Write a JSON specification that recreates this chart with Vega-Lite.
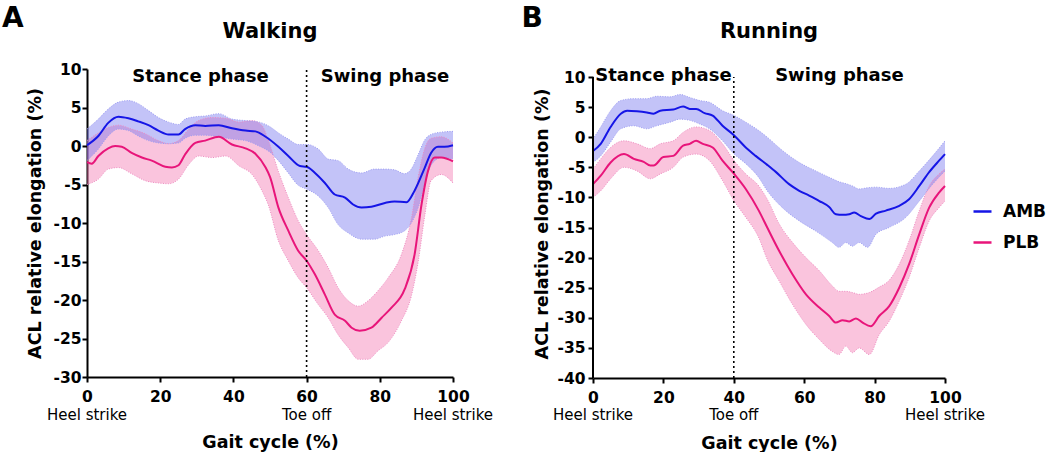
{
"$schema": "https://vega.github.io/schema/vega-lite/v6.json",
"padding": {"left": 2, "top": 5, "right": 2, "bottom": 0},
"spacing": 27,
"config": {
  "view": {"stroke": null},
  "font": "DejaVu Sans",
  "axis": {"grid": false, "domainColor": "black", "domainWidth": 2, "tickColor": "black", "tickWidth": 2, "tickSize": 5,
    "labelFont": "DejaVu Sans", "labelFontSize": 15.5, "labelFontWeight": "bold", "labelColor": "black",
    "titleFont": "DejaVu Sans", "titleFontSize": 17.5, "titleFontWeight": "bold", "titleColor": "black",
    "labelFlush": false, "labelOverlap": false, "labelExpr": "toString(datum.value)"}
},
"datasets": {
  "mean": [
{"p":"W","g":"AMB","x":0,"v":0.1},{"p":"W","g":"AMB","x":3.1,"v":1.3},{"p":"W","g":"AMB","x":5.8,"v":3.0},{"p":"W","g":"AMB","x":8.6,"v":3.8},{"p":"W","g":"AMB","x":11.3,"v":3.6},{"p":"W","g":"AMB","x":14,"v":3.2},{"p":"W","g":"AMB","x":16.8,"v":2.7},{"p":"W","g":"AMB","x":19.5,"v":2.0},{"p":"W","g":"AMB","x":22.3,"v":1.5},{"p":"W","g":"AMB","x":25,"v":1.5},{"p":"W","g":"AMB","x":26.8,"v":2.2},{"p":"W","g":"AMB","x":29.6,"v":2.7},{"p":"W","g":"AMB","x":32.3,"v":2.6},{"p":"W","g":"AMB","x":36,"v":2.7},{"p":"W","g":"AMB","x":39.6,"v":2.3},{"p":"W","g":"AMB","x":43.3,"v":2.0},{"p":"W","g":"AMB","x":46,"v":1.9},{"p":"W","g":"AMB","x":48.8,"v":1.2},{"p":"W","g":"AMB","x":52.3,"v":-0.1},{"p":"W","g":"AMB","x":55,"v":-1.3},{"p":"W","g":"AMB","x":58.2,"v":-2.6},{"p":"W","g":"AMB","x":60,"v":-2.7},{"p":"W","g":"AMB","x":62.3,"v":-3.5},{"p":"W","g":"AMB","x":65,"v":-4.8},{"p":"W","g":"AMB","x":67.7,"v":-6.3},{"p":"W","g":"AMB","x":70.5,"v":-6.7},{"p":"W","g":"AMB","x":72.7,"v":-7.6},{"p":"W","g":"AMB","x":75,"v":-8.0},{"p":"W","g":"AMB","x":77.7,"v":-7.9},{"p":"W","g":"AMB","x":81.4,"v":-7.4},{"p":"W","g":"AMB","x":84,"v":-7.2},{"p":"W","g":"AMB","x":87.3,"v":-7.3},{"p":"W","g":"AMB","x":89.5,"v":-5.8},{"p":"W","g":"AMB","x":92.3,"v":-2.8},{"p":"W","g":"AMB","x":94,"v":-0.9},{"p":"W","g":"AMB","x":95.9,"v":-0.1},{"p":"W","g":"AMB","x":97.7,"v":-0.1},{"p":"W","g":"AMB","x":100,"v":0.1},
{"p":"W","g":"PLB","x":0,"v":-2.1},{"p":"W","g":"PLB","x":1.3,"v":-2.3},{"p":"W","g":"PLB","x":3.1,"v":-1.3},{"p":"W","g":"PLB","x":5.8,"v":-0.3},{"p":"W","g":"PLB","x":7.7,"v":0},{"p":"W","g":"PLB","x":9.5,"v":-0.1},{"p":"W","g":"PLB","x":12.2,"v":-0.9},{"p":"W","g":"PLB","x":15,"v":-1.5},{"p":"W","g":"PLB","x":17.7,"v":-1.9},{"p":"W","g":"PLB","x":21.4,"v":-2.7},{"p":"W","g":"PLB","x":23.2,"v":-2.8},{"p":"W","g":"PLB","x":25,"v":-2.5},{"p":"W","g":"PLB","x":26.8,"v":-1.1},{"p":"W","g":"PLB","x":29.6,"v":0.4},{"p":"W","g":"PLB","x":32.3,"v":0.7},{"p":"W","g":"PLB","x":36,"v":1.2},{"p":"W","g":"PLB","x":39.6,"v":0.2},{"p":"W","g":"PLB","x":43.3,"v":-0.3},{"p":"W","g":"PLB","x":46,"v":-1.0},{"p":"W","g":"PLB","x":48.8,"v":-2.8},{"p":"W","g":"PLB","x":50,"v":-4.0},{"p":"W","g":"PLB","x":52.3,"v":-8.0},{"p":"W","g":"PLB","x":55,"v":-11.0},{"p":"W","g":"PLB","x":57.7,"v":-13.6},{"p":"W","g":"PLB","x":60,"v":-14.9},{"p":"W","g":"PLB","x":62.3,"v":-16.7},{"p":"W","g":"PLB","x":65,"v":-19.3},{"p":"W","g":"PLB","x":67.7,"v":-21.9},{"p":"W","g":"PLB","x":70.5,"v":-22.7},{"p":"W","g":"PLB","x":72.3,"v":-23.6},{"p":"W","g":"PLB","x":74.5,"v":-24.0},{"p":"W","g":"PLB","x":77.7,"v":-23.6},{"p":"W","g":"PLB","x":80.5,"v":-22.3},{"p":"W","g":"PLB","x":83.2,"v":-21.0},{"p":"W","g":"PLB","x":86.8,"v":-18.6},{"p":"W","g":"PLB","x":89.5,"v":-14.1},{"p":"W","g":"PLB","x":91.4,"v":-7.6},{"p":"W","g":"PLB","x":93.2,"v":-3.2},{"p":"W","g":"PLB","x":95,"v":-1.5},{"p":"W","g":"PLB","x":96.8,"v":-1.5},{"p":"W","g":"PLB","x":100,"v":-2.0},
{"p":"R","g":"AMB","x":0,"v":-2.3},{"p":"R","g":"AMB","x":2.2,"v":-1.1},{"p":"R","g":"AMB","x":5,"v":1.7},{"p":"R","g":"AMB","x":7.9,"v":3.9},{"p":"R","g":"AMB","x":9.7,"v":4.4},{"p":"R","g":"AMB","x":12.5,"v":4.3},{"p":"R","g":"AMB","x":15.3,"v":4.1},{"p":"R","g":"AMB","x":17.2,"v":3.9},{"p":"R","g":"AMB","x":19.1,"v":4.4},{"p":"R","g":"AMB","x":22.8,"v":4.6},{"p":"R","g":"AMB","x":25.6,"v":5.1},{"p":"R","g":"AMB","x":27.5,"v":4.7},{"p":"R","g":"AMB","x":29.3,"v":4.7},{"p":"R","g":"AMB","x":31.7,"v":4.0},{"p":"R","g":"AMB","x":34,"v":3.6},{"p":"R","g":"AMB","x":36.8,"v":1.9},{"p":"R","g":"AMB","x":40.1,"v":0.3},{"p":"R","g":"AMB","x":43.4,"v":-1.7},{"p":"R","g":"AMB","x":46.2,"v":-3.1},{"p":"R","g":"AMB","x":49.5,"v":-4.6},{"p":"R","g":"AMB","x":52,"v":-5.8},{"p":"R","g":"AMB","x":55.7,"v":-7.8},{"p":"R","g":"AMB","x":58.6,"v":-8.9},{"p":"R","g":"AMB","x":61.4,"v":-9.7},{"p":"R","g":"AMB","x":64.3,"v":-10.6},{"p":"R","g":"AMB","x":67.1,"v":-11.6},{"p":"R","g":"AMB","x":69,"v":-12.8},{"p":"R","g":"AMB","x":70.9,"v":-12.9},{"p":"R","g":"AMB","x":72.8,"v":-12.8},{"p":"R","g":"AMB","x":74.2,"v":-12.5},{"p":"R","g":"AMB","x":76.1,"v":-13.1},{"p":"R","g":"AMB","x":78.5,"v":-13.6},{"p":"R","g":"AMB","x":80.4,"v":-12.7},{"p":"R","g":"AMB","x":83.2,"v":-12.2},{"p":"R","g":"AMB","x":87,"v":-11.4},{"p":"R","g":"AMB","x":89.8,"v":-10.3},{"p":"R","g":"AMB","x":92.7,"v":-8.1},{"p":"R","g":"AMB","x":95.5,"v":-5.8},{"p":"R","g":"AMB","x":98.3,"v":-3.9},{"p":"R","g":"AMB","x":100,"v":-2.8},
{"p":"R","g":"PLB","x":0,"v":-7.8},{"p":"R","g":"PLB","x":2.2,"v":-6.4},{"p":"R","g":"PLB","x":5,"v":-4.2},{"p":"R","g":"PLB","x":8.8,"v":-2.8},{"p":"R","g":"PLB","x":11.6,"v":-3.6},{"p":"R","g":"PLB","x":14.4,"v":-4.1},{"p":"R","g":"PLB","x":16.3,"v":-4.7},{"p":"R","g":"PLB","x":17.2,"v":-4.7},{"p":"R","g":"PLB","x":20,"v":-3.3},{"p":"R","g":"PLB","x":22.8,"v":-3.1},{"p":"R","g":"PLB","x":25.6,"v":-1.4},{"p":"R","g":"PLB","x":27.5,"v":-1.1},{"p":"R","g":"PLB","x":29.3,"v":-0.6},{"p":"R","g":"PLB","x":31.2,"v":-1.1},{"p":"R","g":"PLB","x":34,"v":-1.7},{"p":"R","g":"PLB","x":36.8,"v":-3.9},{"p":"R","g":"PLB","x":40.1,"v":-6.1},{"p":"R","g":"PLB","x":43.4,"v":-8.6},{"p":"R","g":"PLB","x":47.1,"v":-12.2},{"p":"R","g":"PLB","x":49.5,"v":-15.0},{"p":"R","g":"PLB","x":52.9,"v":-18.9},{"p":"R","g":"PLB","x":56.7,"v":-22.8},{"p":"R","g":"PLB","x":60.5,"v":-26.1},{"p":"R","g":"PLB","x":64.3,"v":-28.3},{"p":"R","g":"PLB","x":67.1,"v":-29.7},{"p":"R","g":"PLB","x":69,"v":-30.8},{"p":"R","g":"PLB","x":70.9,"v":-30.4},{"p":"R","g":"PLB","x":72.8,"v":-30.6},{"p":"R","g":"PLB","x":74.7,"v":-30.1},{"p":"R","g":"PLB","x":76.6,"v":-30.8},{"p":"R","g":"PLB","x":78.9,"v":-31.4},{"p":"R","g":"PLB","x":81.3,"v":-29.7},{"p":"R","g":"PLB","x":84.1,"v":-28.1},{"p":"R","g":"PLB","x":87,"v":-25.0},{"p":"R","g":"PLB","x":89.8,"v":-21.1},{"p":"R","g":"PLB","x":92.7,"v":-16.1},{"p":"R","g":"PLB","x":95.5,"v":-11.7},{"p":"R","g":"PLB","x":98.3,"v":-9.2},{"p":"R","g":"PLB","x":100,"v":-8.1}
  ],
  "band": [
{"p":"W","g":"AMB","x":0,"hi":2.2,"lo":-1.9},{"p":"W","g":"AMB","x":3.1,"hi":3.5,"lo":-0.4},{"p":"W","g":"AMB","x":5.8,"hi":4.8,"lo":1.3},{"p":"W","g":"AMB","x":8.6,"hi":5.7,"lo":2.2},{"p":"W","g":"AMB","x":11.3,"hi":5.9,"lo":2.0},{"p":"W","g":"AMB","x":14,"hi":5.5,"lo":1.3},{"p":"W","g":"AMB","x":16.8,"hi":4.6,"lo":0.7},{"p":"W","g":"AMB","x":19.5,"hi":3.7,"lo":0.4},{"p":"W","g":"AMB","x":22.3,"hi":3.1,"lo":0.3},{"p":"W","g":"AMB","x":25,"hi":2.8,"lo":0.4},{"p":"W","g":"AMB","x":26.8,"hi":3.5,"lo":1.0},{"p":"W","g":"AMB","x":29.6,"hi":3.8,"lo":1.4},{"p":"W","g":"AMB","x":32.3,"hi":3.9,"lo":1.4},{"p":"W","g":"AMB","x":36,"hi":4.2,"lo":1.2},{"p":"W","g":"AMB","x":39.6,"hi":3.5,"lo":0.9},{"p":"W","g":"AMB","x":43.3,"hi":3.3,"lo":0.7},{"p":"W","g":"AMB","x":47,"hi":3.1,"lo":0},{"p":"W","g":"AMB","x":50,"hi":2.5,"lo":-0.8},{"p":"W","g":"AMB","x":52.3,"hi":1.7,"lo":-1.9},{"p":"W","g":"AMB","x":55,"hi":0.9,"lo":-3.5},{"p":"W","g":"AMB","x":57.7,"hi":0.2,"lo":-5.1},{"p":"W","g":"AMB","x":60,"hi":0.2,"lo":-5.6},{"p":"W","g":"AMB","x":63.2,"hi":-0.4,"lo":-6.5},{"p":"W","g":"AMB","x":65.9,"hi":-1.7,"lo":-8.0},{"p":"W","g":"AMB","x":68.6,"hi":-1.9,"lo":-10.2},{"p":"W","g":"AMB","x":71.4,"hi":-3.0,"lo":-11.3},{"p":"W","g":"AMB","x":75,"hi":-3.5,"lo":-12.1},{"p":"W","g":"AMB","x":78.6,"hi":-3.0,"lo":-12.1},{"p":"W","g":"AMB","x":81.4,"hi":-3.0,"lo":-11.7},{"p":"W","g":"AMB","x":84,"hi":-3.1,"lo":-11.5},{"p":"W","g":"AMB","x":86.8,"hi":-3.6,"lo":-11.0},{"p":"W","g":"AMB","x":88.6,"hi":-3.0,"lo":-10.0},{"p":"W","g":"AMB","x":90.5,"hi":-1.1,"lo":-8.0},{"p":"W","g":"AMB","x":92.3,"hi":0.8,"lo":-4.8},{"p":"W","g":"AMB","x":94,"hi":1.5,"lo":-2.5},{"p":"W","g":"AMB","x":96.8,"hi":1.8,"lo":-1.5},{"p":"W","g":"AMB","x":100,"hi":1.9,"lo":-1.7},
{"p":"W","g":"PLB","x":0,"hi":0.7,"lo":-5.0},{"p":"W","g":"PLB","x":3.1,"hi":1.7,"lo":-4.3},{"p":"W","g":"PLB","x":5.8,"hi":2.4,"lo":-3.0},{"p":"W","g":"PLB","x":8.6,"hi":2.7,"lo":-2.8},{"p":"W","g":"PLB","x":12.2,"hi":2.2,"lo":-3.6},{"p":"W","g":"PLB","x":15.9,"hi":1.6,"lo":-4.5},{"p":"W","g":"PLB","x":19.5,"hi":0.7,"lo":-4.8},{"p":"W","g":"PLB","x":22.3,"hi":0.3,"lo":-4.9},{"p":"W","g":"PLB","x":25,"hi":0.7,"lo":-4.3},{"p":"W","g":"PLB","x":27.8,"hi":2.2,"lo":-2.4},{"p":"W","g":"PLB","x":30.5,"hi":3.3,"lo":-1.3},{"p":"W","g":"PLB","x":34.2,"hi":3.7,"lo":-1.5},{"p":"W","g":"PLB","x":37.9,"hi":3.6,"lo":-1.3},{"p":"W","g":"PLB","x":41.6,"hi":3.1,"lo":-2.6},{"p":"W","g":"PLB","x":45.1,"hi":3.3,"lo":-3.7},{"p":"W","g":"PLB","x":47.9,"hi":2.6,"lo":-5.9},{"p":"W","g":"PLB","x":49.5,"hi":0.8,"lo":-7.6},{"p":"W","g":"PLB","x":52.3,"hi":-3.3,"lo":-12.3},{"p":"W","g":"PLB","x":55,"hi":-6.7,"lo":-14.9},{"p":"W","g":"PLB","x":57.7,"hi":-9.7,"lo":-17.1},{"p":"W","g":"PLB","x":60,"hi":-11.5,"lo":-18.4},{"p":"W","g":"PLB","x":63.2,"hi":-13.6,"lo":-20.6},{"p":"W","g":"PLB","x":65.9,"hi":-15.8,"lo":-22.3},{"p":"W","g":"PLB","x":68.6,"hi":-18.4,"lo":-24.5},{"p":"W","g":"PLB","x":71.4,"hi":-20.1,"lo":-26.2},{"p":"W","g":"PLB","x":74.1,"hi":-20.8,"lo":-27.7},{"p":"W","g":"PLB","x":76.8,"hi":-20.1,"lo":-27.7},{"p":"W","g":"PLB","x":79.5,"hi":-18.8,"lo":-26.6},{"p":"W","g":"PLB","x":82.3,"hi":-17.1,"lo":-25.5},{"p":"W","g":"PLB","x":85.9,"hi":-14.1,"lo":-22.7},{"p":"W","g":"PLB","x":88.6,"hi":-9.5,"lo":-19.5},{"p":"W","g":"PLB","x":90.5,"hi":-4.0,"lo":-15.0},{"p":"W","g":"PLB","x":92.3,"hi":-0.3,"lo":-9.0},{"p":"W","g":"PLB","x":94,"hi":1.0,"lo":-4.5},{"p":"W","g":"PLB","x":96.8,"hi":1.2,"lo":-3.7},{"p":"W","g":"PLB","x":100,"hi":0.4,"lo":-4.8},
{"p":"R","g":"AMB","x":0,"hi":-0.3,"lo":-4.2},{"p":"R","g":"AMB","x":2.2,"hi":1.7,"lo":-3.1},{"p":"R","g":"AMB","x":5,"hi":4.4,"lo":-0.8},{"p":"R","g":"AMB","x":7.9,"hi":6.1,"lo":1.4},{"p":"R","g":"AMB","x":11.6,"hi":6.4,"lo":1.9},{"p":"R","g":"AMB","x":15.3,"hi":6.4,"lo":1.4},{"p":"R","g":"AMB","x":18.1,"hi":6.8,"lo":1.9},{"p":"R","g":"AMB","x":21.9,"hi":6.7,"lo":2.5},{"p":"R","g":"AMB","x":24.7,"hi":7.1,"lo":3.0},{"p":"R","g":"AMB","x":27.5,"hi":6.6,"lo":2.8},{"p":"R","g":"AMB","x":30.3,"hi":6.1,"lo":2.2},{"p":"R","g":"AMB","x":33.1,"hi":5.8,"lo":1.4},{"p":"R","g":"AMB","x":36.8,"hi":4.4,"lo":-0.6},{"p":"R","g":"AMB","x":40.1,"hi":3.6,"lo":-2.8},{"p":"R","g":"AMB","x":43.4,"hi":2.5,"lo":-4.4},{"p":"R","g":"AMB","x":47.1,"hi":1.1,"lo":-6.7},{"p":"R","g":"AMB","x":49.5,"hi":0,"lo":-8.9},{"p":"R","g":"AMB","x":53.8,"hi":-2.2,"lo":-11.7},{"p":"R","g":"AMB","x":58.6,"hi":-4.2,"lo":-13.9},{"p":"R","g":"AMB","x":63.3,"hi":-5.6,"lo":-15.6},{"p":"R","g":"AMB","x":68,"hi":-6.9,"lo":-17.5},{"p":"R","g":"AMB","x":69.9,"hi":-7.4,"lo":-18.3},{"p":"R","g":"AMB","x":71.8,"hi":-7.7,"lo":-17.5},{"p":"R","g":"AMB","x":73.7,"hi":-8.1,"lo":-18.1},{"p":"R","g":"AMB","x":75.6,"hi":-8.6,"lo":-17.5},{"p":"R","g":"AMB","x":78,"hi":-8.4,"lo":-18.3},{"p":"R","g":"AMB","x":80.4,"hi":-8.3,"lo":-16.1},{"p":"R","g":"AMB","x":84.1,"hi":-8.5,"lo":-15.0},{"p":"R","g":"AMB","x":88.9,"hi":-7.8,"lo":-13.3},{"p":"R","g":"AMB","x":92.7,"hi":-5.6,"lo":-10.6},{"p":"R","g":"AMB","x":96.5,"hi":-3.1,"lo":-7.8},{"p":"R","g":"AMB","x":100,"hi":-0.6,"lo":-5.6},
{"p":"R","g":"PLB","x":0,"hi":-5.3,"lo":-10.0},{"p":"R","g":"PLB","x":2.2,"hi":-3.6,"lo":-8.9},{"p":"R","g":"PLB","x":5,"hi":-1.7,"lo":-6.9},{"p":"R","g":"PLB","x":8.8,"hi":-0.6,"lo":-5.0},{"p":"R","g":"PLB","x":12.5,"hi":-1.1,"lo":-5.6},{"p":"R","g":"PLB","x":16.3,"hi":-1.9,"lo":-6.9},{"p":"R","g":"PLB","x":19.1,"hi":-1.1,"lo":-6.1},{"p":"R","g":"PLB","x":22.8,"hi":-0.6,"lo":-5.0},{"p":"R","g":"PLB","x":25.6,"hi":0.8,"lo":-3.3},{"p":"R","g":"PLB","x":29.3,"hi":1.7,"lo":-2.8},{"p":"R","g":"PLB","x":33.1,"hi":1.1,"lo":-3.9},{"p":"R","g":"PLB","x":36.8,"hi":-1.1,"lo":-7.2},{"p":"R","g":"PLB","x":40.1,"hi":-3.9,"lo":-10.6},{"p":"R","g":"PLB","x":43.4,"hi":-6.1,"lo":-13.3},{"p":"R","g":"PLB","x":47.1,"hi":-8.1,"lo":-16.7},{"p":"R","g":"PLB","x":49.5,"hi":-10.3,"lo":-20.3},{"p":"R","g":"PLB","x":52.9,"hi":-14.4,"lo":-23.9},{"p":"R","g":"PLB","x":56.7,"hi":-17.5,"lo":-27.8},{"p":"R","g":"PLB","x":60.5,"hi":-20.0,"lo":-31.1},{"p":"R","g":"PLB","x":64.3,"hi":-22.2,"lo":-33.6},{"p":"R","g":"PLB","x":68,"hi":-24.7,"lo":-35.6},{"p":"R","g":"PLB","x":69.9,"hi":-25.6,"lo":-36.1},{"p":"R","g":"PLB","x":71.8,"hi":-25.6,"lo":-34.7},{"p":"R","g":"PLB","x":73.7,"hi":-25.8,"lo":-35.8},{"p":"R","g":"PLB","x":75.6,"hi":-26.1,"lo":-35.0},{"p":"R","g":"PLB","x":78.5,"hi":-25.8,"lo":-36.1},{"p":"R","g":"PLB","x":81.3,"hi":-24.9,"lo":-32.8},{"p":"R","g":"PLB","x":84.1,"hi":-23.8,"lo":-30.6},{"p":"R","g":"PLB","x":87,"hi":-21.1,"lo":-27.2},{"p":"R","g":"PLB","x":89.8,"hi":-17.2,"lo":-23.3},{"p":"R","g":"PLB","x":92.7,"hi":-12.2,"lo":-18.3},{"p":"R","g":"PLB","x":95.5,"hi":-8.1,"lo":-13.9},{"p":"R","g":"PLB","x":98.3,"hi":-6.1,"lo":-11.7},{"p":"R","g":"PLB","x":100,"hi":-5.3,"lo":-10.6}
  ],
  "ann": [
{"p":"W","k":"letter","x":-23.2,"y":15.45,"t":"A"},
{"p":"W","k":"title","x":50,"y":14.03,"t":"Walking"},
{"p":"W","k":"phase","x":31,"y":8.35,"t":"Stance phase"},
{"p":"W","k":"phase","x":81.4,"y":8.35,"t":"Swing phase"},
{"p":"W","k":"event","x":0,"y":-35.6,"t":"Heel strike"},
{"p":"W","k":"event","x":60,"y":-35.6,"t":"Toe off"},
{"p":"W","k":"event","x":100,"y":-35.6,"t":"Heel strike"},
{"p":"R","k":"letter","x":-20.3,"y":18.3,"t":"B"},
{"p":"R","k":"title","x":50,"y":16.48,"t":"Running"},
{"p":"R","k":"phase","x":20,"y":9.34,"t":"Stance phase"},
{"p":"R","k":"phase","x":70,"y":9.34,"t":"Swing phase"},
{"p":"R","k":"event","x":0,"y":-46.97,"t":"Heel strike"},
{"p":"R","k":"event","x":40,"y":-46.97,"t":"Toe off"},
{"p":"R","k":"event","x":100,"y":-46.97,"t":"Heel strike"}
  ],
  "rules": [
{"p":"W","k":"toe","x":60,"y":-30,"y2":10},
{"p":"R","k":"toe","x":40,"y":-40,"y2":10},
{"p":"R","k":"axis","x":0,"y":-40,"y2":10}
  ]
},
"hconcat": [
{
  "width": 366, "height": 308,
  "encoding": {
    "x": {"field": "x", "type": "quantitative", "scale": {"domain": [0, 100], "nice": false}, "axis": {"values": [0,20,40,60,80,100], "title": "Gait cycle (%)", "titlePadding": 29, "labelPadding": 7}}
  },
  "layer": [
    {"data": {"name": "band"}, "transform": [{"filter": "datum.p=='W' && datum.g=='PLB'"}],
     "mark": {"type": "area", "color": "#f272ad", "opacity": 0.42, "interpolate": "monotone"},
     "encoding": {
       "y": {"field": "hi", "type": "quantitative", "scale": {"domain": [-30, 10], "nice": false, "zero": false}, "axis": {"values": [-30,-25,-20,-15,-10,-5,0,5,10], "title": "ACL relative elongation (%)", "titlePadding": 8, "labelPadding": 1}},
       "y2": {"field": "lo"}}},
    {"data": {"name": "band"}, "transform": [{"filter": "datum.p=='W' && datum.g=='AMB'"}],
     "mark": {"type": "area", "color": "#7070ee", "opacity": 0.42, "interpolate": "monotone"},
     "encoding": {"y": {"field": "hi", "type": "quantitative", "scale": {"domain": [-30, 10], "nice": false, "zero": false}, "axis": {"values": [-30,-25,-20,-15,-10,-5,0,5,10], "title": "ACL relative elongation (%)", "titlePadding": 8, "labelPadding": 1}}, "y2": {"field": "lo"}}},
    {"data": {"name": "band"}, "transform": [{"filter": "datum.p=='W' && datum.g=='PLB'"}, {"fold": ["hi", "lo"], "as": ["b", "bv"]}],
     "mark": {"type": "line", "strokeWidth": 1, "strokeDash": [1, 1.5], "color": "#ee8ac0", "interpolate": "monotone"},
     "encoding": {"y": {"field": "bv", "type": "quantitative", "scale": {"domain": [-30, 10], "nice": false, "zero": false}, "axis": {"values": [-30,-25,-20,-15,-10,-5,0,5,10], "title": "ACL relative elongation (%)", "titlePadding": 8, "labelPadding": 1}},
       "detail": {"field": "b"}}},
    {"data": {"name": "band"}, "transform": [{"filter": "datum.p=='W' && datum.g=='AMB'"}, {"fold": ["hi", "lo"], "as": ["b", "bv"]}],
     "mark": {"type": "line", "strokeWidth": 1, "strokeDash": [1, 1.5], "color": "#9c9cf2", "interpolate": "monotone"},
     "encoding": {"y": {"field": "bv", "type": "quantitative", "scale": {"domain": [-30, 10], "nice": false, "zero": false}, "axis": {"values": [-30,-25,-20,-15,-10,-5,0,5,10], "title": "ACL relative elongation (%)", "titlePadding": 8, "labelPadding": 1}},
       "detail": {"field": "b"}}},
    {"data": {"name": "mean"}, "transform": [{"filter": "datum.p=='W'"}],
     "mark": {"type": "line", "strokeWidth": 2, "interpolate": "monotone"},
     "encoding": {"y": {"field": "v", "type": "quantitative", "scale": {"domain": [-30, 10], "nice": false, "zero": false}, "axis": {"values": [-30,-25,-20,-15,-10,-5,0,5,10], "title": "ACL relative elongation (%)", "titlePadding": 8, "labelPadding": 1}},
       "color": {"field": "g", "type": "nominal", "scale": {"domain": ["AMB", "PLB"], "range": ["#1515e6", "#e8157a"]},
         "legend": {"orient": "none", "legendX": 885, "legendY": 132, "title": null, "labelFont": "DejaVu Sans", "labelFontSize": 17, "labelFontWeight": "bold", "labelColor": "black", "symbolType": "stroke", "symbolSize": 324, "symbolStrokeWidth": 2.5, "rowPadding": 12, "labelOffset": 10, "padding": 0}}}},
    {"data": {"name": "rules"}, "transform": [{"filter": "datum.p=='W'"}],
     "mark": {"type": "rule", "color": "black", "strokeWidth": 1.6, "strokeDash": [2, 3]},
     "encoding": {"y": {"field": "y", "type": "quantitative", "scale": {"domain": [-30, 10], "nice": false, "zero": false}, "axis": {"values": [-30,-25,-20,-15,-10,-5,0,5,10], "title": "ACL relative elongation (%)", "titlePadding": 8, "labelPadding": 1}}, "y2": {"field": "y2"}}},
    {"data": {"name": "ann"}, "transform": [{"filter": "datum.p=='W' && datum.k=='letter'"}],
     "mark": {"type": "text", "font": "DejaVu Sans", "fontSize": 28, "fontWeight": "bold", "align": "left", "baseline": "alphabetic", "color": "black"},
     "encoding": {"y": {"field": "y", "type": "quantitative", "scale": {"domain": [-30, 10], "nice": false, "zero": false}, "axis": {"values": [-30,-25,-20,-15,-10,-5,0,5,10], "title": "ACL relative elongation (%)", "titlePadding": 8, "labelPadding": 1}}, "text": {"field": "t"}}},
    {"data": {"name": "ann"}, "transform": [{"filter": "datum.p=='W' && datum.k=='title'"}],
     "mark": {"type": "text", "font": "DejaVu Sans", "fontSize": 21, "fontWeight": "bold", "align": "center", "baseline": "alphabetic", "color": "black"},
     "encoding": {"y": {"field": "y", "type": "quantitative", "scale": {"domain": [-30, 10], "nice": false, "zero": false}, "axis": {"values": [-30,-25,-20,-15,-10,-5,0,5,10], "title": "ACL relative elongation (%)", "titlePadding": 8, "labelPadding": 1}}, "text": {"field": "t"}}},
    {"data": {"name": "ann"}, "transform": [{"filter": "datum.p=='W' && datum.k=='phase'"}],
     "mark": {"type": "text", "font": "DejaVu Sans", "fontSize": 18, "fontWeight": "bold", "align": "center", "baseline": "alphabetic", "color": "black"},
     "encoding": {"y": {"field": "y", "type": "quantitative", "scale": {"domain": [-30, 10], "nice": false, "zero": false}, "axis": {"values": [-30,-25,-20,-15,-10,-5,0,5,10], "title": "ACL relative elongation (%)", "titlePadding": 8, "labelPadding": 1}}, "text": {"field": "t"}}},
    {"data": {"name": "ann"}, "transform": [{"filter": "datum.p=='W' && datum.k=='event'"}],
     "mark": {"type": "text", "font": "DejaVu Sans", "fontSize": 15, "align": "center", "baseline": "alphabetic", "color": "black"},
     "encoding": {"y": {"field": "y", "type": "quantitative", "scale": {"domain": [-30, 10], "nice": false, "zero": false}, "axis": {"values": [-30,-25,-20,-15,-10,-5,0,5,10], "title": "ACL relative elongation (%)", "titlePadding": 8, "labelPadding": 1}}, "text": {"field": "t"}}}
  ]
},
{
  "width": 352, "height": 309,
  "encoding": {
    "x": {"field": "x", "type": "quantitative", "scale": {"domain": [0, 100], "nice": false}, "axis": {"values": [0,20,40,60,80,100], "title": "Gait cycle (%)", "titlePadding": 29, "labelPadding": 7}}
  },
  "layer": [
    {"data": {"name": "band"}, "transform": [{"filter": "datum.p=='R' && datum.g=='PLB'"}],
     "mark": {"type": "area", "color": "#f272ad", "opacity": 0.42, "interpolate": "monotone"},
     "encoding": {
       "y": {"field": "hi", "type": "quantitative", "scale": {"domain": [-40, 11.33], "nice": false, "zero": false}, "axis": {"values": [-40,-35,-30,-25,-20,-15,-10,-5,0,5,10], "domain": false, "title": "ACL relative elongation (%)", "titlePadding": 5, "labelPadding": 3}},
       "y2": {"field": "lo"}}},
    {"data": {"name": "band"}, "transform": [{"filter": "datum.p=='R' && datum.g=='AMB'"}],
     "mark": {"type": "area", "color": "#7070ee", "opacity": 0.42, "interpolate": "monotone"},
     "encoding": {"y": {"field": "hi", "type": "quantitative", "scale": {"domain": [-40, 11.33], "nice": false, "zero": false}, "axis": {"values": [-40,-35,-30,-25,-20,-15,-10,-5,0,5,10], "domain": false, "title": "ACL relative elongation (%)", "titlePadding": 5, "labelPadding": 3}}, "y2": {"field": "lo"}}},
    {"data": {"name": "band"}, "transform": [{"filter": "datum.p=='R' && datum.g=='PLB'"}, {"fold": ["hi", "lo"], "as": ["b", "bv"]}],
     "mark": {"type": "line", "strokeWidth": 1, "strokeDash": [1, 1.5], "color": "#ee8ac0", "interpolate": "monotone"},
     "encoding": {"y": {"field": "bv", "type": "quantitative", "scale": {"domain": [-40, 11.33], "nice": false, "zero": false}, "axis": {"values": [-40,-35,-30,-25,-20,-15,-10,-5,0,5,10], "domain": false, "title": "ACL relative elongation (%)", "titlePadding": 5, "labelPadding": 3}},
       "detail": {"field": "b"}}},
    {"data": {"name": "band"}, "transform": [{"filter": "datum.p=='R' && datum.g=='AMB'"}, {"fold": ["hi", "lo"], "as": ["b", "bv"]}],
     "mark": {"type": "line", "strokeWidth": 1, "strokeDash": [1, 1.5], "color": "#9c9cf2", "interpolate": "monotone"},
     "encoding": {"y": {"field": "bv", "type": "quantitative", "scale": {"domain": [-40, 11.33], "nice": false, "zero": false}, "axis": {"values": [-40,-35,-30,-25,-20,-15,-10,-5,0,5,10], "domain": false, "title": "ACL relative elongation (%)", "titlePadding": 5, "labelPadding": 3}},
       "detail": {"field": "b"}}},
    {"data": {"name": "mean"}, "transform": [{"filter": "datum.p=='R'"}],
     "mark": {"type": "line", "strokeWidth": 2, "interpolate": "monotone"},
     "encoding": {"y": {"field": "v", "type": "quantitative", "scale": {"domain": [-40, 11.33], "nice": false, "zero": false}, "axis": {"values": [-40,-35,-30,-25,-20,-15,-10,-5,0,5,10], "domain": false, "title": "ACL relative elongation (%)", "titlePadding": 5, "labelPadding": 3}},
       "color": {"field": "g", "type": "nominal", "scale": {"domain": ["AMB", "PLB"], "range": ["#1515e6", "#e8157a"]}}}},
    {"data": {"name": "rules"}, "transform": [{"filter": "datum.p=='R'"}],
     "mark": {"type": "rule", "color": "black"},
     "encoding": {"y": {"field": "y", "type": "quantitative", "scale": {"domain": [-40, 11.33], "nice": false, "zero": false}, "axis": {"values": [-40,-35,-30,-25,-20,-15,-10,-5,0,5,10], "domain": false, "title": "ACL relative elongation (%)", "titlePadding": 5, "labelPadding": 3}}, "y2": {"field": "y2"},
       "strokeDash": {"field": "k", "type": "nominal", "scale": {"domain": ["toe", "axis"], "range": [[2, 3], [1, 0]]}, "legend": null},
       "strokeWidth": {"field": "k", "type": "nominal", "scale": {"domain": ["toe", "axis"], "range": [1.6, 2]}, "legend": null}}},
    {"data": {"name": "ann"}, "transform": [{"filter": "datum.p=='R' && datum.k=='letter'"}],
     "mark": {"type": "text", "font": "DejaVu Sans", "fontSize": 28, "fontWeight": "bold", "align": "left", "baseline": "alphabetic", "color": "black"},
     "encoding": {"y": {"field": "y", "type": "quantitative", "scale": {"domain": [-40, 11.33], "nice": false, "zero": false}, "axis": {"values": [-40,-35,-30,-25,-20,-15,-10,-5,0,5,10], "domain": false, "title": "ACL relative elongation (%)", "titlePadding": 5, "labelPadding": 3}}, "text": {"field": "t"}}},
    {"data": {"name": "ann"}, "transform": [{"filter": "datum.p=='R' && datum.k=='title'"}],
     "mark": {"type": "text", "font": "DejaVu Sans", "fontSize": 21, "fontWeight": "bold", "align": "center", "baseline": "alphabetic", "color": "black"},
     "encoding": {"y": {"field": "y", "type": "quantitative", "scale": {"domain": [-40, 11.33], "nice": false, "zero": false}, "axis": {"values": [-40,-35,-30,-25,-20,-15,-10,-5,0,5,10], "domain": false, "title": "ACL relative elongation (%)", "titlePadding": 5, "labelPadding": 3}}, "text": {"field": "t"}}},
    {"data": {"name": "ann"}, "transform": [{"filter": "datum.p=='R' && datum.k=='phase'"}],
     "mark": {"type": "text", "font": "DejaVu Sans", "fontSize": 18, "fontWeight": "bold", "align": "center", "baseline": "alphabetic", "color": "black"},
     "encoding": {"y": {"field": "y", "type": "quantitative", "scale": {"domain": [-40, 11.33], "nice": false, "zero": false}, "axis": {"values": [-40,-35,-30,-25,-20,-15,-10,-5,0,5,10], "domain": false, "title": "ACL relative elongation (%)", "titlePadding": 5, "labelPadding": 3}}, "text": {"field": "t"}}},
    {"data": {"name": "ann"}, "transform": [{"filter": "datum.p=='R' && datum.k=='event'"}],
     "mark": {"type": "text", "font": "DejaVu Sans", "fontSize": 15, "align": "center", "baseline": "alphabetic", "color": "black"},
     "encoding": {"y": {"field": "y", "type": "quantitative", "scale": {"domain": [-40, 11.33], "nice": false, "zero": false}, "axis": {"values": [-40,-35,-30,-25,-20,-15,-10,-5,0,5,10], "domain": false, "title": "ACL relative elongation (%)", "titlePadding": 5, "labelPadding": 3}}, "text": {"field": "t"}}}
  ]
}
]
}
